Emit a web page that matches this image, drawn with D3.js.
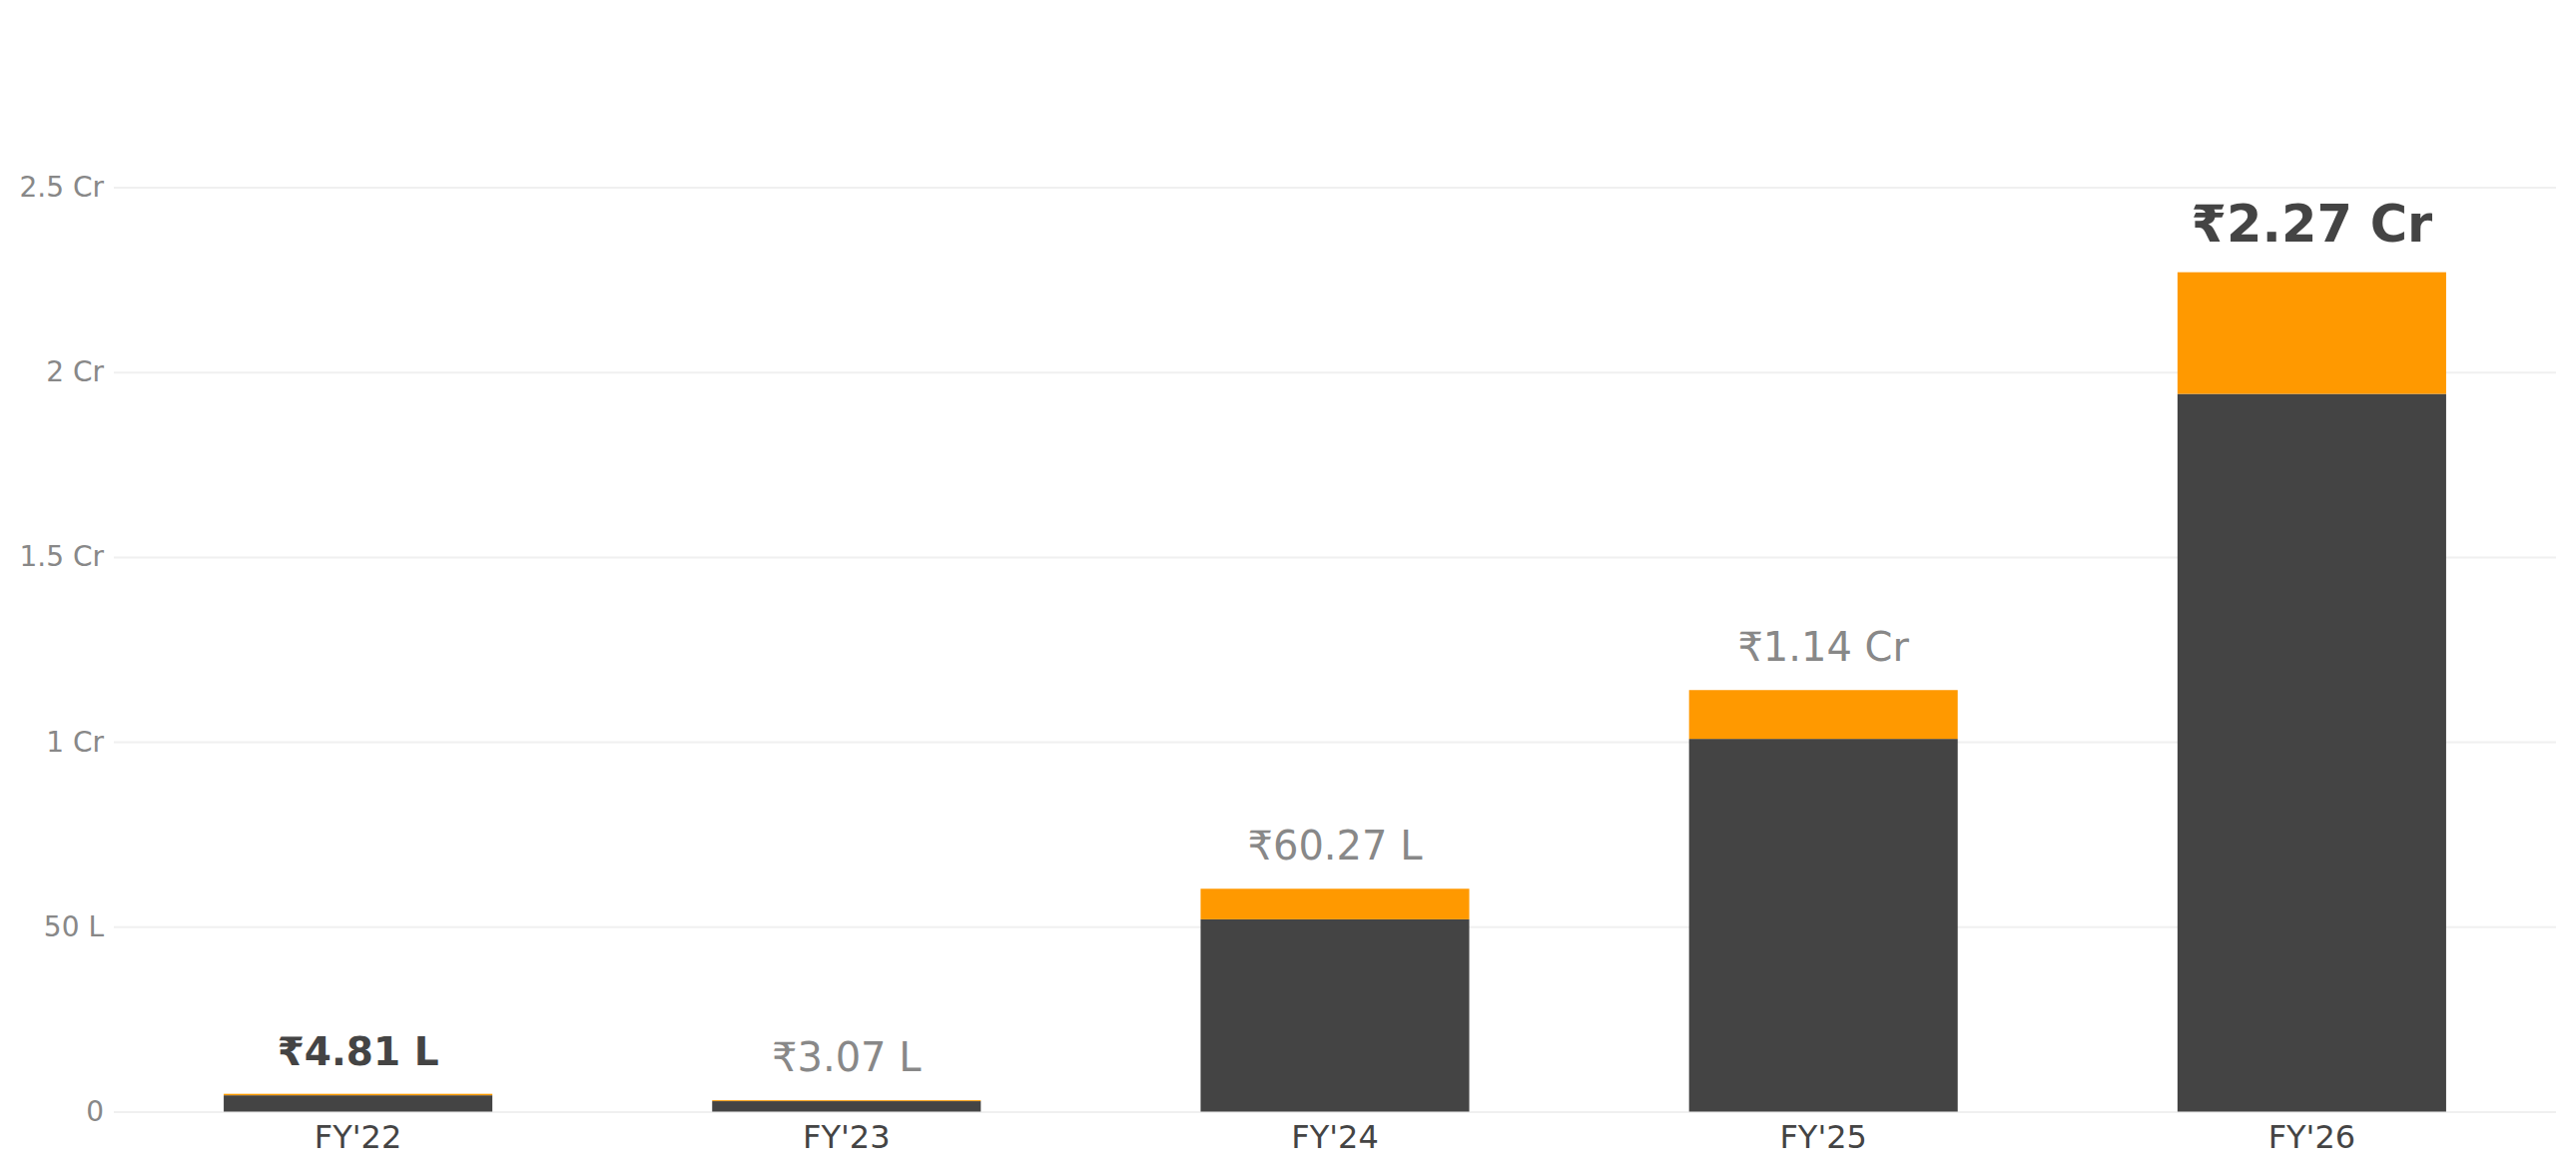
<!DOCTYPE html>
<html>
<head>
<meta charset="utf-8">
<script src="https://cdn.jsdelivr.net/npm/d3@7"></script>
<style>
  body { margin: 0; background: #fff; }
  text { font-family: "DejaVu Sans", sans-serif; }
</style>
</head>
<body>
<div id="chart"></div>
<script>
// values in lakh (1 Cr = 100 L)
const years = ["FY'22", "FY'23", "FY'24", "FY'25", "FY'26"];
const baseValues = [4.41, 2.82, 52.0, 100.8, 194.1];
const topValues = [0.40, 0.25, 8.27, 13.2, 32.9];
const totalLabels = ["₹4.81 L", "₹3.07 L", "₹60.27 L", "₹1.14 Cr", "₹2.27 Cr"];
const tickValues = [0, 50, 100, 150, 200, 250];
const tickLabels = ["0", "50 L", "1 Cr", "1.5 Cr", "2 Cr", "2.5 Cr"];

const W = 2580, H = 1177;
const left = 114, right = 2560, zeroY = 1113.5, topY = 187.5;

const svg = d3.select("#chart").append("svg")
  .attr("width", W)
  .attr("height", H);

const x = d3.scaleBand()
  .domain(years)
  .range([left, right])
  .paddingInner(0.45)
  .paddingOuter(0.225);

const y = d3.scaleLinear()
  .domain([0, 250])
  .range([zeroY, topY]);

// gridlines + tick labels
const yAxis = svg.append("g")
  .attr("transform", `translate(${left},0)`)
  .call(d3.axisLeft(y)
    .tickValues(tickValues)
    .tickFormat((d, i) => tickLabels[i])
    .tickSize(-(right - left))
    .tickPadding(10));
yAxis.select(".domain").remove();
yAxis.selectAll(".tick line")
  .attr("stroke", "#f0f0f0")
  .attr("stroke-width", 2);
yAxis.selectAll(".tick text")
  .attr("fill", "#888")
  .style("font-size", "28px");

// x labels
const xAxis = svg.append("g")
  .attr("transform", `translate(0,${zeroY})`)
  .call(d3.axisBottom(x).tickSize(0).tickPadding(14));
xAxis.select(".domain").remove();
xAxis.selectAll(".tick text")
  .attr("fill", "#444")
  .style("font-size", "32px");

const rows = years.map((yr, i) => ({
  year: yr, base: baseValues[i], top: topValues[i], label: totalLabels[i], i: i
}));

// dark base segment
svg.append("g").selectAll("rect")
  .data(rows)
  .enter()
  .append("rect")
  .attr("x", d => x(d.year))
  .attr("width", x.bandwidth())
  .attr("y", d => y(d.base))
  .attr("height", d => y(0) - y(d.base))
  .attr("fill", "#444444");

// orange top segment
svg.append("g").selectAll("rect")
  .data(rows)
  .enter()
  .append("rect")
  .attr("x", d => x(d.year))
  .attr("width", x.bandwidth())
  .attr("y", d => y(d.base + d.top))
  .attr("height", d => y(d.base) - y(d.base + d.top))
  .attr("fill", "#FF9900");

// total labels: first and last highlighted
const last = years.length - 1;
svg.append("g").selectAll("text")
  .data(rows)
  .enter()
  .append("text")
  .attr("x", d => x(d.year) + x.bandwidth() / 2)
  .attr("y", d => y(d.base + d.top) - (d.i === last ? 31 : 29))
  .attr("text-anchor", "middle")
  .text(d => d.label)
  .attr("fill", d => (d.i === 0 || d.i === last) ? "#444" : "#888")
  .style("font-weight", d => (d.i === 0 || d.i === last) ? "bold" : "normal")
  .style("font-size", d => d.i === last ? "51px" : (d.i === 0 ? "39px" : "40px"));
</script>
</body>
</html>
